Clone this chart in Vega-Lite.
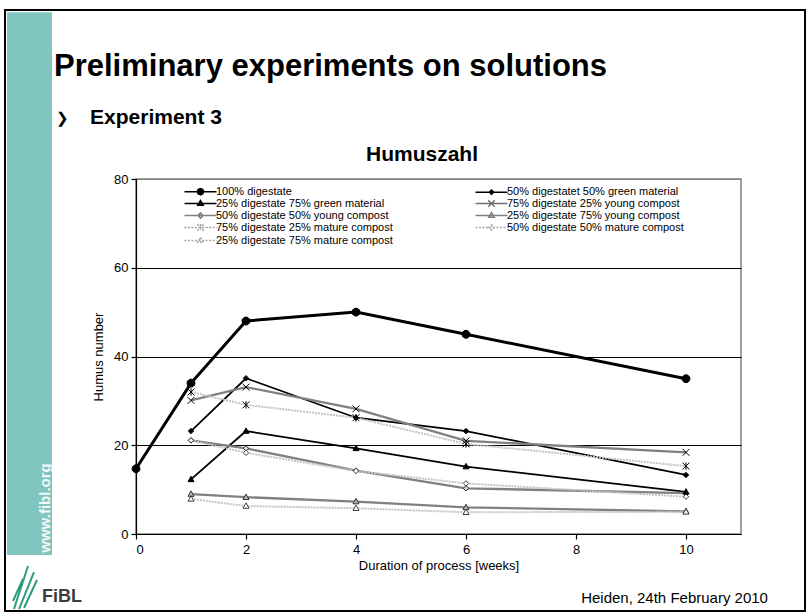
{
  "$schema": "https://vega.github.io/schema/vega-lite/v6.json",
  "width": 605,
  "height": 355,
  "autosize": {"type": "none"},
  "padding": {"left": 136, "top": 179, "right": 66, "bottom": 78},
  "background": "white",
  "config": {
    "font": "Liberation Sans",
    "view": {"stroke": "#808080", "strokeWidth": 1.5},
    "axis": {"labelFont": "Liberation Sans", "titleFont": "Liberation Sans", "labelColor": "black", "titleColor": "black", "domainColor": "black", "tickColor": "black", "labelFontSize": 13, "titleFontSize": 13, "titleFontWeight": "normal", "tickSize": 5, "domainWidth": 1.2, "tickWidth": 1.2}
  },
  "resolve": {"axis": {"x": "independent", "y": "independent"}},
  "datasets": {
    "humus": [
      {"series": "100% digestate", "week": 0, "humus": 14.7},
      {"series": "100% digestate", "week": 1, "humus": 34},
      {"series": "100% digestate", "week": 2, "humus": 48},
      {"series": "100% digestate", "week": 4, "humus": 50},
      {"series": "100% digestate", "week": 6, "humus": 45},
      {"series": "100% digestate", "week": 10, "humus": 35},
      {"series": "50% digestatet 50% green material", "week": 1, "humus": 23.2},
      {"series": "50% digestatet 50% green material", "week": 2, "humus": 35.1},
      {"series": "50% digestatet 50% green material", "week": 4, "humus": 26.2},
      {"series": "50% digestatet 50% green material", "week": 6, "humus": 23.2},
      {"series": "50% digestatet 50% green material", "week": 10, "humus": 13.3},
      {"series": "25% digestate 75% green material", "week": 1, "humus": 12.3},
      {"series": "25% digestate 75% green material", "week": 2, "humus": 23.2},
      {"series": "25% digestate 75% green material", "week": 4, "humus": 19.3},
      {"series": "25% digestate 75% green material", "week": 6, "humus": 15.2},
      {"series": "25% digestate 75% green material", "week": 10, "humus": 9.5},
      {"series": "75% digestate 25% young compost", "week": 1, "humus": 30.1},
      {"series": "75% digestate 25% young compost", "week": 2, "humus": 33.1},
      {"series": "75% digestate 25% young compost", "week": 4, "humus": 28.2},
      {"series": "75% digestate 25% young compost", "week": 6, "humus": 21},
      {"series": "75% digestate 25% young compost", "week": 10, "humus": 18.4},
      {"series": "50% digestate 50% young compost", "week": 1, "humus": 21.1},
      {"series": "50% digestate 50% young compost", "week": 2, "humus": 19.3},
      {"series": "50% digestate 50% young compost", "week": 4, "humus": 14.3},
      {"series": "50% digestate 50% young compost", "week": 6, "humus": 10.3},
      {"series": "50% digestate 50% young compost", "week": 10, "humus": 9.2},
      {"series": "25% digestate 75% young compost", "week": 1, "humus": 9.0},
      {"series": "25% digestate 75% young compost", "week": 2, "humus": 8.3},
      {"series": "25% digestate 75% young compost", "week": 4, "humus": 7.3},
      {"series": "25% digestate 75% young compost", "week": 6, "humus": 6.0},
      {"series": "25% digestate 75% young compost", "week": 10, "humus": 5.1},
      {"series": "75% digestate 25% mature compost", "week": 1, "humus": 32},
      {"series": "75% digestate 25% mature compost", "week": 2, "humus": 29.1},
      {"series": "75% digestate 25% mature compost", "week": 4, "humus": 26.2},
      {"series": "75% digestate 25% mature compost", "week": 6, "humus": 20.3},
      {"series": "75% digestate 25% mature compost", "week": 10, "humus": 15.3},
      {"series": "50% digestate 50% mature compost", "week": 1, "humus": 21.1},
      {"series": "50% digestate 50% mature compost", "week": 2, "humus": 18.3},
      {"series": "50% digestate 50% mature compost", "week": 4, "humus": 14.2},
      {"series": "50% digestate 50% mature compost", "week": 6, "humus": 11.4},
      {"series": "50% digestate 50% mature compost", "week": 10, "humus": 8.4},
      {"series": "25% digestate 75% mature compost", "week": 1, "humus": 7.9},
      {"series": "25% digestate 75% mature compost", "week": 2, "humus": 6.3},
      {"series": "25% digestate 75% mature compost", "week": 4, "humus": 5.8},
      {"series": "25% digestate 75% mature compost", "week": 6, "humus": 4.9},
      {"series": "25% digestate 75% mature compost", "week": 10, "humus": 5.0}
    ]
  },
  "layer": [
    {
      "data": {"name": "humus"},
      "transform": [{"filter": {"field": "series", "equal": "100% digestate"}}],
      "mark": {"type": "line", "color": "black", "strokeWidth": 3},
      "encoding": {
        "x": {"field": "week", "type": "quantitative", "scale": {"domain": [0, 11], "nice": false, "zero": false},
              "axis": {"values": [0, 2, 4, 6, 8, 10], "title": "Duration of process [weeks]", "grid": false, "labelPadding": 4, "titlePadding": 3}},
        "y": {"field": "humus", "type": "quantitative", "scale": {"domain": [0, 80], "nice": false},
              "axis": {"values": [0, 20, 40, 60, 80], "title": "Humus number", "grid": true, "gridColor": {"condition": {"test": "datum.value >= 80", "value": "#808080"}, "value": "black"}, "gridWidth": 1, "labelPadding": 3, "titlePadding": 8}},
        "detail": {"field": "series"},
        "order": {"field": "week"}
      }
    },
    {
      "data": {"values": [{"part": "sidebar"}]},
      "mark": {"type": "rect", "color": "#80c6be"},
      "encoding": {
        "x": {"datum": -2.345, "type": "quantitative", "scale": {"domain": [0, 11], "nice": false, "zero": false}, "axis": null},
        "x2": {"datum": -1.527},
        "y": {"datum": 117.6, "type": "quantitative", "scale": {"domain": [0, 80], "nice": false}, "axis": null},
        "y2": {"datum": -4.73}
      }
    },
    {
      "data": {"values": [{"part": "frame"}]},
      "mark": {"type": "rect", "fill": "transparent", "stroke": "black", "strokeWidth": 2},
      "encoding": {
        "x": {"datum": -2.382, "type": "quantitative", "scale": {"domain": [0, 11], "nice": false, "zero": false}, "axis": null},
        "x2": {"datum": 12.164},
        "y": {"datum": 118.1, "type": "quantitative", "scale": {"domain": [0, 80], "nice": false}, "axis": null},
        "y2": {"datum": -17.35}
      }
    },
    {
      "data": {"values": [{"text": "Preliminary experiments on solutions"}]},
      "mark": {"type": "text", "align": "left", "baseline": "middle", "font": "Liberation Sans", "fontSize": 31, "fontWeight": "bold", "color": "black"},
      "encoding": {
        "x": {"datum": -1.4909, "type": "quantitative", "scale": {"domain": [0, 11], "nice": false, "zero": false}, "axis": null},
        "y": {"datum": 105.24, "type": "quantitative", "scale": {"domain": [0, 80], "nice": false}, "axis": null},
        "text": {"field": "text"}
      }
    },
    {
      "data": {"values": [{"text": "❯"}]},
      "mark": {"type": "text", "align": "left", "baseline": "middle", "font": "DejaVu Sans", "fontSize": 15, "fontWeight": "bold", "color": "black"},
      "encoding": {
        "x": {"datum": -1.4545, "type": "quantitative", "scale": {"domain": [0, 11], "nice": false, "zero": false}, "axis": null},
        "y": {"datum": 93.75, "type": "quantitative", "scale": {"domain": [0, 80], "nice": false}, "axis": null},
        "text": {"field": "text"}
      }
    },
    {
      "data": {"values": [{"text": "Experiment 3"}]},
      "mark": {"type": "text", "align": "left", "baseline": "middle", "font": "Liberation Sans", "fontSize": 21, "fontWeight": "bold", "color": "black"},
      "encoding": {
        "x": {"datum": -0.836, "type": "quantitative", "scale": {"domain": [0, 11], "nice": false, "zero": false}, "axis": null},
        "y": {"datum": 93.75, "type": "quantitative", "scale": {"domain": [0, 80], "nice": false}, "axis": null},
        "text": {"field": "text"}
      }
    },
    {
      "data": {"values": [{"text": "Humuszahl"}]},
      "mark": {"type": "text", "align": "center", "baseline": "middle", "font": "Liberation Sans", "fontSize": 21, "fontWeight": "bold", "color": "black"},
      "encoding": {
        "x": {"datum": 5.2, "type": "quantitative", "scale": {"domain": [0, 11], "nice": false, "zero": false}, "axis": null},
        "y": {"datum": 85.41, "type": "quantitative", "scale": {"domain": [0, 80], "nice": false}, "axis": null},
        "text": {"field": "text"}
      }
    },
    {
      "data": {"values": [{"text": "www.fibl.org"}]},
      "mark": {"type": "text", "align": "center", "baseline": "middle", "angle": 270, "font": "Liberation Sans", "fontSize": 15, "fontWeight": "bold", "color": "white", "opacity": 0.9},
      "encoding": {
        "x": {"datum": -1.6545, "type": "quantitative", "scale": {"domain": [0, 11], "nice": false, "zero": false}, "axis": null},
        "y": {"datum": 5.86, "type": "quantitative", "scale": {"domain": [0, 80], "nice": false}, "axis": null},
        "text": {"field": "text"}
      }
    },
    {
      "data": {"values": [{"part": "logo"}]},
      "mark": {"type": "point", "shape": "M-2.2,4.2L0.6,-4.4M-1.2,4.2L1.8,-3.2M-0.2,4L2.4,-1.6M-2.4,2.6L-0.4,-1.8", "size": 100, "stroke": "#2e9c7c", "strokeWidth": 2, "filled": false, "opacity": 1},
      "encoding": {
        "x": {"datum": -2.018, "type": "quantitative", "scale": {"domain": [0, 11], "nice": false, "zero": false}, "axis": null},
        "y": {"datum": -12.17, "type": "quantitative", "scale": {"domain": [0, 80], "nice": false}, "axis": null}
      }
    },
    {
      "data": {"values": [{"text": "FiBL"}]},
      "mark": {"type": "text", "align": "left", "baseline": "middle", "font": "Liberation Sans", "fontSize": 18, "fontWeight": "bold", "color": "#3c3c3c"},
      "encoding": {
        "x": {"datum": -1.709, "type": "quantitative", "scale": {"domain": [0, 11], "nice": false, "zero": false}, "axis": null},
        "y": {"datum": -14.2, "type": "quantitative", "scale": {"domain": [0, 80], "nice": false}, "axis": null},
        "text": {"field": "text"}
      }
    },
    {
      "data": {"values": [{"text": "Heiden, 24th February 2010"}]},
      "mark": {"type": "text", "align": "right", "baseline": "middle", "font": "Liberation Sans", "fontSize": 15, "color": "black"},
      "encoding": {
        "x": {"datum": 11.49, "type": "quantitative", "scale": {"domain": [0, 11], "nice": false, "zero": false}, "axis": null},
        "y": {"datum": -14.42, "type": "quantitative", "scale": {"domain": [0, 80], "nice": false}, "axis": null},
        "text": {"field": "text"}
      }
    },
    {
      "data": {"name": "humus"},
      "transform": [{"filter": {"field": "series", "oneOf": ["50% digestatet 50% green material", "25% digestate 75% green material"]}}],
      "mark": {"type": "line", "color": "black", "strokeWidth": 1.8},
      "encoding": {
        "x": {"field": "week", "type": "quantitative", "scale": {"domain": [0, 11], "nice": false, "zero": false}, "axis": null},
        "y": {"field": "humus", "type": "quantitative", "scale": {"domain": [0, 80], "nice": false}, "axis": null},
        "detail": {"field": "series"},
        "order": {"field": "week"}
      }
    },
    {
      "data": {"name": "humus"},
      "transform": [{"filter": {"field": "series", "oneOf": ["75% digestate 25% young compost", "50% digestate 50% young compost", "25% digestate 75% young compost"]}}],
      "mark": {"type": "line", "color": "#808080", "strokeWidth": 2.3},
      "encoding": {
        "x": {"field": "week", "type": "quantitative", "scale": {"domain": [0, 11], "nice": false, "zero": false}, "axis": null},
        "y": {"field": "humus", "type": "quantitative", "scale": {"domain": [0, 80], "nice": false}, "axis": null},
        "detail": {"field": "series"},
        "order": {"field": "week"}
      }
    },
    {
      "data": {"name": "humus"},
      "transform": [{"filter": {"field": "series", "oneOf": ["75% digestate 25% mature compost", "50% digestate 50% mature compost", "25% digestate 75% mature compost"]}}],
      "mark": {"type": "line", "color": "#c4c4c4", "strokeWidth": 2, "strokeDash": [2, 1]},
      "encoding": {
        "x": {"field": "week", "type": "quantitative", "scale": {"domain": [0, 11], "nice": false, "zero": false}, "axis": null},
        "y": {"field": "humus", "type": "quantitative", "scale": {"domain": [0, 80], "nice": false}, "axis": null},
        "detail": {"field": "series"},
        "order": {"field": "week"}
      }
    },
    {
      "data": {"name": "humus"},
      "transform": [{"filter": {"field": "series", "equal": "100% digestate"}}],
      "mark": {"type": "point", "size": 36, "strokeWidth": 1, "opacity": 1, "shape": "M1.33,0L1.15,0.67L0.67,1.15L0,1.33L-0.67,1.15L-1.15,0.67L-1.33,0L-1.15,-0.67L-0.67,-1.15L0,-1.33L0.67,-1.15L1.15,-0.67Z"},
      "encoding": {
        "x": {"field": "week", "type": "quantitative", "scale": {"domain": [0, 11], "nice": false, "zero": false}, "axis": null},
        "y": {"field": "humus", "type": "quantitative", "scale": {"domain": [0, 80], "nice": false}, "axis": null},
        "fill": {"field": "series", "type": "nominal", "legend": null,
                 "scale": {"domain": ["100% digestate", "50% digestatet 50% green material", "25% digestate 75% green material", "75% digestate 25% young compost", "50% digestate 50% young compost", "25% digestate 75% young compost", "75% digestate 25% mature compost", "50% digestate 50% mature compost", "25% digestate 75% mature compost"],
                           "range": ["black", "black", "black", "transparent", "#d8d8d8", "#b8b8b8", "transparent", "white", "white"]}},
        "stroke": {"field": "series", "type": "nominal", "legend": null,
                 "scale": {"domain": ["100% digestate", "50% digestatet 50% green material", "25% digestate 75% green material", "75% digestate 25% young compost", "50% digestate 50% young compost", "25% digestate 75% young compost", "75% digestate 25% mature compost", "50% digestate 50% mature compost", "25% digestate 75% mature compost"],
                           "range": ["black", "black", "black", "black", "#303030", "#303030", "black", "#404040", "#404040"]}}
      }
    },
    {
      "data": {"name": "humus"},
      "transform": [{"filter": {"field": "series", "oneOf": ["50% digestatet 50% green material", "50% digestate 50% young compost", "50% digestate 50% mature compost"]}}],
      "mark": {"type": "point", "size": 36, "strokeWidth": 1, "opacity": 1, "shape": "M0,-0.9L0.9,0L0,0.9L-0.9,0Z"},
      "encoding": {
        "x": {"field": "week", "type": "quantitative", "scale": {"domain": [0, 11], "nice": false, "zero": false}, "axis": null},
        "y": {"field": "humus", "type": "quantitative", "scale": {"domain": [0, 80], "nice": false}, "axis": null},
        "fill": {"field": "series", "type": "nominal", "legend": null},
        "stroke": {"field": "series", "type": "nominal", "legend": null}
      }
    },
    {
      "data": {"name": "humus"},
      "transform": [{"filter": {"field": "series", "oneOf": ["25% digestate 75% green material", "25% digestate 75% young compost", "25% digestate 75% mature compost"]}}],
      "mark": {"type": "point", "size": 36, "strokeWidth": 1, "opacity": 1, "shape": "M0,-1.05L1,0.75L-1,0.75Z"},
      "encoding": {
        "x": {"field": "week", "type": "quantitative", "scale": {"domain": [0, 11], "nice": false, "zero": false}, "axis": null},
        "y": {"field": "humus", "type": "quantitative", "scale": {"domain": [0, 80], "nice": false}, "axis": null},
        "fill": {"field": "series", "type": "nominal", "legend": null},
        "stroke": {"field": "series", "type": "nominal", "legend": null}
      }
    },
    {
      "data": {"name": "humus"},
      "transform": [{"filter": {"field": "series", "equal": "75% digestate 25% young compost"}}],
      "mark": {"type": "point", "size": 36, "strokeWidth": 1, "opacity": 1, "shape": "M-1.15,-1.15L1.15,1.15M-1.15,1.15L1.15,-1.15"},
      "encoding": {
        "x": {"field": "week", "type": "quantitative", "scale": {"domain": [0, 11], "nice": false, "zero": false}, "axis": null},
        "y": {"field": "humus", "type": "quantitative", "scale": {"domain": [0, 80], "nice": false}, "axis": null},
        "fill": {"field": "series", "type": "nominal", "legend": null},
        "stroke": {"field": "series", "type": "nominal", "legend": null}
      }
    },
    {
      "data": {"name": "humus"},
      "transform": [{"filter": {"field": "series", "equal": "75% digestate 25% mature compost"}}],
      "mark": {"type": "point", "size": 36, "strokeWidth": 1, "opacity": 1, "shape": "M-1.15,-1.15L1.15,1.15M-1.15,1.15L1.15,-1.15M0,-1.25L0,1.25"},
      "encoding": {
        "x": {"field": "week", "type": "quantitative", "scale": {"domain": [0, 11], "nice": false, "zero": false}, "axis": null},
        "y": {"field": "humus", "type": "quantitative", "scale": {"domain": [0, 80], "nice": false}, "axis": null},
        "fill": {"field": "series", "type": "nominal", "legend": null},
        "stroke": {"field": "series", "type": "nominal", "legend": null}
      }
    },
    {
      "data": {"name": "humus"},
      "transform": [{"filter": {"field": "week", "lt": 0}}],
      "mark": {"type": "point", "size": 16, "strokeWidth": 1.5, "opacity": 1, "filled": false},
      "encoding": {
        "x": {"field": "week", "type": "quantitative", "scale": {"domain": [0, 11], "nice": false, "zero": false}, "axis": null},
        "y": {"field": "humus", "type": "quantitative", "scale": {"domain": [0, 80], "nice": false}, "axis": null},
        "color": {"field": "series", "type": "nominal",
                  "scale": {"domain": ["100% digestate", "25% digestate 75% green material", "50% digestate 50% young compost", "75% digestate 25% mature compost", "25% digestate 75% mature compost", "50% digestatet 50% green material", "75% digestate 25% young compost", "25% digestate 75% young compost", "50% digestate 50% mature compost"],
                            "range": ["#000000", "#000000", "#808080", "#a0a0a0", "#a8a8a8", "#000000", "#707070", "#808080", "#a8a8a8"]},
                  "legend": {"title": null, "orient": "none", "legendX": 49, "legendY": 7, "columns": 2, "columnPadding": 79, "rowPadding": -2, "symbolSize": 16, "symbolOffset": 10, "labelOffset": 10, "symbolStrokeWidth": 1.5, "labelFont": "Liberation Sans", "labelFontSize": 11, "labelColor": "black", "labelLimit": 400, "padding": 0}},
        "strokeDash": {"field": "series", "type": "nominal",
                  "scale": {"domain": ["100% digestate", "25% digestate 75% green material", "50% digestate 50% young compost", "75% digestate 25% mature compost", "25% digestate 75% mature compost", "50% digestatet 50% green material", "75% digestate 25% young compost", "25% digestate 75% young compost", "50% digestate 50% mature compost"],
                            "range": [[1, 0], [1, 0], [1, 0], [2, 1.5], [2, 1.5], [1, 0], [1, 0], [1, 0], [2, 1.5]]},
                  "legend": {"title": null, "orient": "none", "legendX": 49, "legendY": 7, "columns": 2, "columnPadding": 79, "rowPadding": -2, "symbolSize": 16, "symbolOffset": 10, "labelOffset": 10, "symbolStrokeWidth": 1.5, "labelFont": "Liberation Sans", "labelFontSize": 11, "labelColor": "black", "labelLimit": 400, "padding": 0}},
        "shape": {"field": "series", "type": "nominal",
                  "scale": {"domain": ["100% digestate", "25% digestate 75% green material", "50% digestate 50% young compost", "75% digestate 25% mature compost", "25% digestate 75% mature compost", "50% digestatet 50% green material", "75% digestate 25% young compost", "25% digestate 75% young compost", "50% digestate 50% mature compost"],
                            "range": [
                              "M-8,0L8,0M1.6,0L1.13,1.13L0,1.6L-1.13,1.13L-1.6,0L-1.13,-1.13L0,-1.6L1.13,-1.13ZM0.8,0L0.57,0.57L0,0.8L-0.57,0.57L-0.8,0L-0.57,-0.57L0,-0.8L0.57,-0.57Z",
                              "M-8,0L8,0M0,-1.5L1.4,0.9L-1.4,0.9ZM0,-0.5L0.5,0.5L-0.5,0.5Z",
                              "M-8,0L8,0M0,-1.3L1.3,0L0,1.3L-1.3,0Z",
                              "M-8,0L8,0M-1.6,-1.6L1.6,1.6M-1.6,1.6L1.6,-1.6M0,-1.8L0,1.8",
                              "M-8,0L8,0M0,-1.5L1.4,0.9L-1.4,0.9Z",
                              "M-8,0L8,0M0,-1.1L1.1,0L0,1.1L-1.1,0ZM0,-0.4L0.4,0L0,0.4L-0.4,0Z",
                              "M-8,0L8,0M-1.6,-1.6L1.6,1.6M-1.6,1.6L1.6,-1.6",
                              "M-8,0L8,0M0,-1.5L1.4,0.9L-1.4,0.9Z",
                              "M-8,0L8,0M0,-1.3L1.3,0L0,1.3L-1.3,0Z"]},
                  "legend": {"title": null, "orient": "none", "legendX": 49, "legendY": 7, "columns": 2, "columnPadding": 79, "rowPadding": -2, "symbolSize": 16, "symbolOffset": 10, "labelOffset": 10, "symbolStrokeWidth": 1.5, "labelFont": "Liberation Sans", "labelFontSize": 11, "labelColor": "black", "labelLimit": 400, "padding": 0}}
      }
    }
  ]
}
